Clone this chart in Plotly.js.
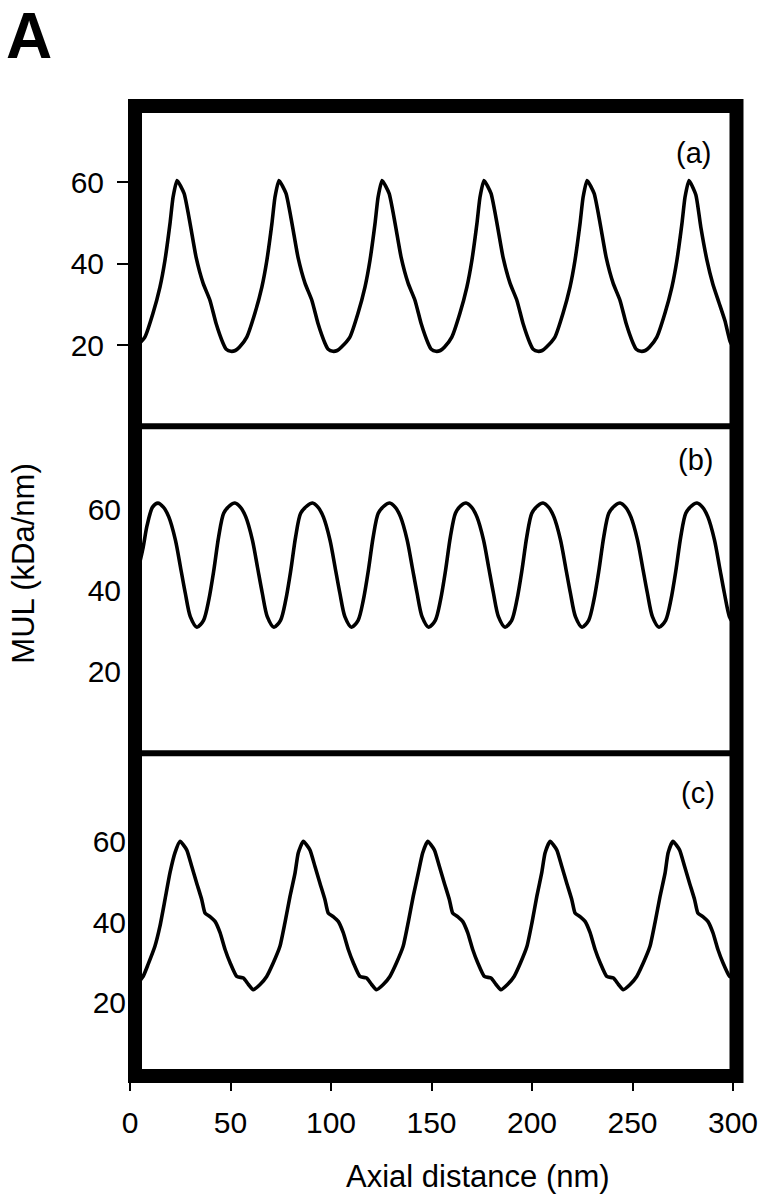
<!DOCTYPE html>
<html>
<head>
<meta charset="utf-8">
<script src="https://cdn.plot.ly/plotly-3.0.1.min.js"></script>
<style>
  html, body { margin: 0; padding: 0; background: #ffffff; }
  #chart { width: 772px; height: 1199px; }
</style>
</head>
<body>
<div id="chart"></div>
<script>
// ---- Tick labels ----
const xTicks = [0, 50, 100, 150, 200, 250, 300];
const yTicks = [20, 40, 60];
const panelLabels = ['(a)', '(b)', '(c)'];
const xTitle = 'Axial distance (nm)';
const yTitle = 'MUL (kDa/nm)';
const figLabel = 'A';

// ---- Panel (a) profile ----
const xA = [0, 3, 7.4, 11.4, 14.9, 17.4, 19.9, 21.4, 23.4, 26.9, 29.9, 32.9, 36.4, 39.8, 42.8, 46.3, 47.9, 50.2, 52.4, 54.4,
  58.1, 62.1, 65.6, 68.1, 70.6, 72.1, 74.1, 77.6, 80.6, 83.6, 87.1, 90.5, 93.5, 97, 98.6, 100.9, 103.1, 105.1,
  109.4, 113.4, 116.9, 119.4, 121.9, 123.4, 125.4, 128.9, 131.9, 134.9, 138.4, 141.8, 144.8, 148.3, 149.9, 152.2, 154.4, 156.4,
  160.1, 164.1, 167.6, 170.1, 172.6, 174.1, 176.1, 179.6, 182.6, 185.6, 189.1, 192.5, 195.5, 199, 200.6, 202.9, 205.1, 207.1,
  211.4, 215.4, 218.9, 221.4, 223.9, 225.4, 227.4, 230.9, 233.9, 236.9, 240.4, 243.8, 246.8, 250.3, 251.9, 254.2, 256.4, 258.4,
  262.1, 266.1, 269.6, 272.1, 274.6, 276.1, 278.1, 281.5, 284, 287, 290, 293, 296, 298.5, 300];
const yA = [18.8, 19.6, 22, 27.8, 34.3, 40.9, 49.9, 56.3, 60.5, 57.3, 49.9, 41.6, 35.2, 31, 25.4, 20.5, 19, 18.5, 18.7, 19.5,
  22, 27.8, 34.3, 40.9, 49.9, 56.3, 60.5, 57.3, 49.9, 41.6, 35.2, 31, 25.4, 20.5, 19, 18.5, 18.7, 19.5,
  22, 27.8, 34.3, 40.9, 49.9, 56.3, 60.5, 57.3, 49.9, 41.6, 35.2, 31, 25.4, 20.5, 19, 18.5, 18.7, 19.5,
  22, 27.8, 34.3, 40.9, 49.9, 56.3, 60.5, 57.3, 49.9, 41.6, 35.2, 31, 25.4, 20.5, 19, 18.5, 18.7, 19.5,
  22, 27.8, 34.3, 40.9, 49.9, 56.3, 60.5, 57.3, 49.9, 41.6, 35.2, 31, 25.4, 20.5, 19, 18.5, 18.7, 19.5,
  22, 27.8, 34.3, 40.9, 49.9, 56.3, 60.5, 57, 49, 41, 35, 30.5, 26, 21, 19.5];

// ---- Panel (b) profile ----
const xB = [0, 2, 4.5, 6.5, 8.5, 11.2, 13.9, 16.6, 19.3, 22.6, 25.1, 27.5, 30, 33.3, 36.6, 39.2, 41.7, 44.1, 46.6, 49.5,
  52.2, 54.9, 57.6, 60.9, 63.4, 65.8, 68.3, 71.6, 74.9, 77.5, 80, 82.4, 84.9, 88.1,
  90.8, 93.5, 96.2, 99.5, 102, 104.4, 106.9, 110.2, 113.5, 116.1, 118.6, 121, 123.5, 126.5,
  129.2, 131.9, 134.6, 137.9, 140.4, 142.8, 145.3, 148.6, 151.9, 154.5, 157, 159.4, 161.9, 164.5,
  167.2, 169.9, 172.6, 175.9, 178.4, 180.8, 183.3, 186.6, 189.9, 192.5, 195, 197.4, 199.9, 202.8,
  205.5, 208.2, 210.9, 214.2, 216.7, 219.1, 221.6, 224.9, 228.2, 230.8, 233.3, 235.7, 238.2, 241.1,
  243.8, 246.5, 249.2, 252.5, 255, 257.4, 259.9, 263.2, 266.5, 269.1, 271.6, 274, 276.5, 279.4,
  282.1, 284.8, 287.5, 290.8, 293.3, 295.7, 298.2, 300];
const yB = [35, 39.5, 46, 50.5, 56, 60.5, 61.5, 60.5, 58.1, 52.4, 45.8, 39.4, 33.6, 31, 32.7, 37.7, 45, 53.2, 59, 60.8,
  61.5, 60.5, 58.1, 52.4, 45.8, 39.4, 33.6, 31, 32.7, 37.7, 45, 53.2, 59, 60.8,
  61.5, 60.5, 58.1, 52.4, 45.8, 39.4, 33.6, 31, 32.7, 37.7, 45, 53.2, 59, 60.8,
  61.5, 60.5, 58.1, 52.4, 45.8, 39.4, 33.6, 31, 32.7, 37.7, 45, 53.2, 59, 60.8,
  61.5, 60.5, 58.1, 52.4, 45.8, 39.4, 33.6, 31, 32.7, 37.7, 45, 53.2, 59, 60.8,
  61.5, 60.5, 58.1, 52.4, 45.8, 39.4, 33.6, 31, 32.7, 37.7, 45, 53.2, 59, 60.8,
  61.5, 60.5, 58.1, 52.4, 45.8, 39.4, 33.6, 31, 32.7, 37.7, 45, 53.2, 59, 60.8,
  61.5, 60.5, 58.1, 52.4, 45.8, 39.4, 33.6, 32];

// ---- Panel (c) profile ----
const xC = [0, 3, 6.5, 9, 12.4, 14.9, 17.4, 19.9, 22.4,
  24.9, 28.2, 30.7, 33.2, 35.7, 37.3, 39.8, 42.3, 44.8, 47.3, 49.8, 53.1, 56.4, 58.9, 61.3,
  64.7, 68, 71.3, 74.6, 77.1, 79.6, 82.1, 83.7,
  86.2, 89.5, 92, 94.5, 97, 98.6, 101.1, 103.6, 106.1, 108.6, 111.1, 114.4, 117.7, 120.2, 122.6,
  126, 129.3, 132.6, 135.9, 138.4, 140.9, 143.4, 145.6,
  148.1, 151.4, 153.9, 156.4, 158.9, 160.5, 163, 165.5, 168, 170.5, 173, 176.3, 179.6, 182.1, 184.5,
  187.8, 191.1, 194.3, 197.5, 200, 202.4, 204.8, 206.5,
  209, 212.3, 214.8, 217.3, 219.8, 221.4, 223.9, 226.4, 228.9, 231.4, 233.9, 237.2, 240.5, 243, 245.4,
  248.8, 252.1, 255.4, 258.7, 261.2, 263.7, 266.2, 267.7,
  270.1, 273.4, 275.9, 278.4, 280.9, 282.5, 285, 287.5, 290, 292.5, 295, 298.3, 300];
const yC = [23.5, 24.5, 26.5, 29.5, 34, 39, 45.6, 52.3, 57.3,
  60.1, 58, 53.9, 49.7, 45.6, 42.3, 41.4, 40.2, 37.4, 33.2, 29.9, 26.5, 26.1, 24.5, 23.2,
  24.5, 26.5, 29.9, 34, 39.9, 46.4, 52.2, 57.2,
  60.1, 58, 53.9, 49.7, 45.6, 42.3, 41.4, 40.2, 37.4, 33.2, 29.9, 26.5, 26.1, 24.5, 23.2,
  24.5, 26.5, 29.9, 34, 39.9, 46.4, 52.2, 57.2,
  60.1, 58, 53.9, 49.7, 45.6, 42.3, 41.4, 40.2, 37.4, 33.2, 29.9, 26.5, 26.1, 24.5, 23.2,
  24.5, 26.5, 29.9, 34, 39.9, 46.4, 52.2, 57.2,
  60.1, 58, 53.9, 49.7, 45.6, 42.3, 41.4, 40.2, 37.4, 33.2, 29.9, 26.5, 26.1, 24.5, 23.2,
  24.5, 26.5, 29.9, 34, 39.9, 46.4, 52.2, 57.2,
  60.1, 58, 53.9, 49.7, 45.6, 42.3, 41.4, 40.2, 37.4, 33.2, 29.9, 26.5, 26.2];

const FONT = 'Arial, "Liberation Sans", Helvetica, sans-serif';
const lineA = { color: '#000000', width: 3.6, shape: 'spline', smoothing: 0.5 };
const lineB = { color: '#000000', width: 3.6, shape: 'spline', smoothing: 0.8 };
const lineC = { color: '#000000', width: 3.6, shape: 'spline', smoothing: 0.5 };

const traces = [
  { x: xA, y: yA, xaxis: 'x', yaxis: 'y',  type: 'scatter', mode: 'lines', line: lineA, hoverinfo: 'skip', name: panelLabels[0] },
  { x: xB, y: yB, xaxis: 'x', yaxis: 'y2', type: 'scatter', mode: 'lines', line: lineB, hoverinfo: 'skip', name: panelLabels[1] },
  { x: xC, y: yC, xaxis: 'x', yaxis: 'y3', type: 'scatter', mode: 'lines', line: lineC, hoverinfo: 'skip', name: panelLabels[2] }
];

const yBase = {
  anchor: 'x', tickvals: yTicks, ticktext: yTicks.map(String),
  showgrid: false, zeroline: false, showline: false,
  tickcolor: '#000', tickwidth: 2, tickfont: { family: FONT, size: 30, color: '#000' }
};

const layout = {
  width: 772, height: 1199,
  margin: { l: 130, r: 39, t: 105.5, b: 122.5, pad: 0 },
  paper_bgcolor: '#ffffff', plot_bgcolor: '#ffffff',
  showlegend: false,
  font: { family: FONT, color: '#000', size: 30 },
  xaxis: {
    anchor: 'y3', domain: [0, 1], range: [0, 300],
    tickvals: xTicks, ticktext: xTicks.map(String),
    ticks: 'outside', ticklen: 14, tickwidth: 2, tickcolor: '#000',
    ticklabelstandoff: 6,
    showgrid: false, zeroline: false, showline: false,
    tickfont: { family: FONT, size: 30, color: '#000' }
  },
  yaxis: Object.assign({}, yBase, { domain: [0.66993, 1], range: [0.1, 78.8], ticks: 'outside', ticklen: 12, ticklabelstandoff: 7 }),
  yaxis2: Object.assign({}, yBase, { domain: [0.33265, 0.66993], range: [0, 80.4], ticks: '', ticklabelstandoff: 8 }),
  yaxis3: Object.assign({}, yBase, { domain: [0, 0.33265], range: [1.74, 82], ticks: '', ticklabelstandoff: 3 }),
  shapes: [
    { type: 'rect', xref: 'paper', yref: 'paper', x0: 0.0083, x1: 1.0058, y0: 0, y1: 1,
      line: { color: '#000', width: 14 }, fillcolor: 'rgba(0,0,0,0)', layer: 'above' },
    { type: 'line', xref: 'paper', yref: 'paper', x0: 0.0083, x1: 1.0058, y0: 0.66993, y1: 0.66993,
      line: { color: '#000', width: 6 }, layer: 'above' },
    { type: 'line', xref: 'paper', yref: 'paper', x0: 0.0083, x1: 1.0058, y0: 0.33265, y1: 0.33265,
      line: { color: '#000', width: 6 }, layer: 'above' }
  ],
  annotations: [
    { text: '<b>' + figLabel + '</b>', xref: 'paper', yref: 'paper', x: -0.1675, y: 1.0717,
      xanchor: 'center', yanchor: 'middle', showarrow: false, font: { family: FONT, size: 64, color: '#000' } },
    { text: panelLabels[0], xref: 'paper', yref: 'paper', x: 0.9337, y: 0.9511,
      xanchor: 'center', yanchor: 'middle', showarrow: false, font: { family: FONT, size: 29, color: '#000' } },
    { text: panelLabels[1], xref: 'paper', yref: 'paper', x: 0.937, y: 0.6349,
      xanchor: 'center', yanchor: 'middle', showarrow: false, font: { family: FONT, size: 29, color: '#000' } },
    { text: panelLabels[2], xref: 'paper', yref: 'paper', x: 0.942, y: 0.292,
      xanchor: 'center', yanchor: 'middle', showarrow: false, font: { family: FONT, size: 29, color: '#000' } },
    { text: xTitle, xref: 'paper', yref: 'paper', x: 0.5771, y: -0.1041,
      xanchor: 'center', yanchor: 'middle', showarrow: false, font: { family: FONT, size: 31, color: '#000' } },
    { text: yTitle, xref: 'paper', yref: 'paper', x: -0.1781, y: 0.5278, textangle: -90,
      xanchor: 'center', yanchor: 'middle', showarrow: false, font: { family: FONT, size: 31, color: '#000' } }
  ]
};

Plotly.newPlot('chart', traces, layout, { displayModeBar: false, staticPlot: true });
</script>
</body>
</html>
